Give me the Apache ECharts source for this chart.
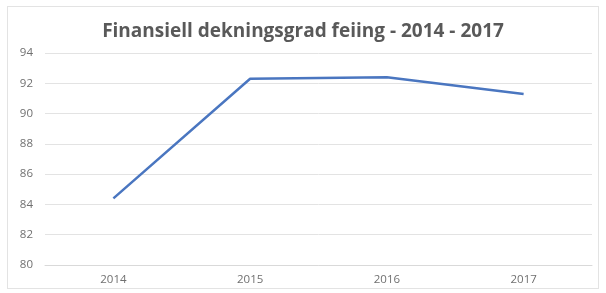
<!DOCTYPE html>
<html><head><meta charset="utf-8">
<script src="https://cdn.jsdelivr.net/npm/echarts@6/dist/echarts.min.js"></script>
<style>
html,body{margin:0;padding:0;background:#fff;}
#frame{position:absolute;left:7px;top:6px;width:592px;height:283px;border:1px solid #e3e3e3;box-sizing:border-box;}
#c{position:absolute;left:0;top:0;width:606px;height:293px;}
</style></head>
<body>
<div id="frame"></div>
<div id="c"></div>
<script>
const title = "Finansiell dekningsgrad feiing - 2014 - 2017";
const categories = ["2014", "2015", "2016", "2017"];
const values = [84.4, 92.3, 92.4, 91.3];
const yMin = 80, yMax = 94, yStep = 2;

const chart = echarts.init(document.getElementById('c'), null, {renderer: 'canvas'});
chart.setOption({
  animation: false,
  title: {
    text: title, left: 'center', top: 17,
    textStyle: {fontFamily: 'Open Sans', fontSize: 19, fontWeight: 'bold', color: '#595959'}
  },
  grid: {left: 45, right: 14, top: 53, bottom: 28, containLabel: false},
  xAxis: {
    type: 'category', data: categories, boundaryGap: true,
    axisLine: {show: true, lineStyle: {color: '#d9d9d9'}},
    axisTick: {show: false},
    axisLabel: {color: '#707070', fontSize: 11.5, fontFamily: 'Open Sans', margin: 9}
  },
  yAxis: {
    type: 'value', min: yMin, max: yMax, interval: yStep,
    axisLine: {show: false}, axisTick: {show: false},
    axisLabel: {color: '#707070', fontSize: 11.5, fontFamily: 'Open Sans', margin: 12},
    splitLine: {lineStyle: {color: '#e3e3e3', width: 1}}
  },
  series: [{
    type: 'line', data: values, symbol: 'none',
    lineStyle: {color: '#4a76c0', width: 2.5}
  }]
});
</script>
</body></html>
